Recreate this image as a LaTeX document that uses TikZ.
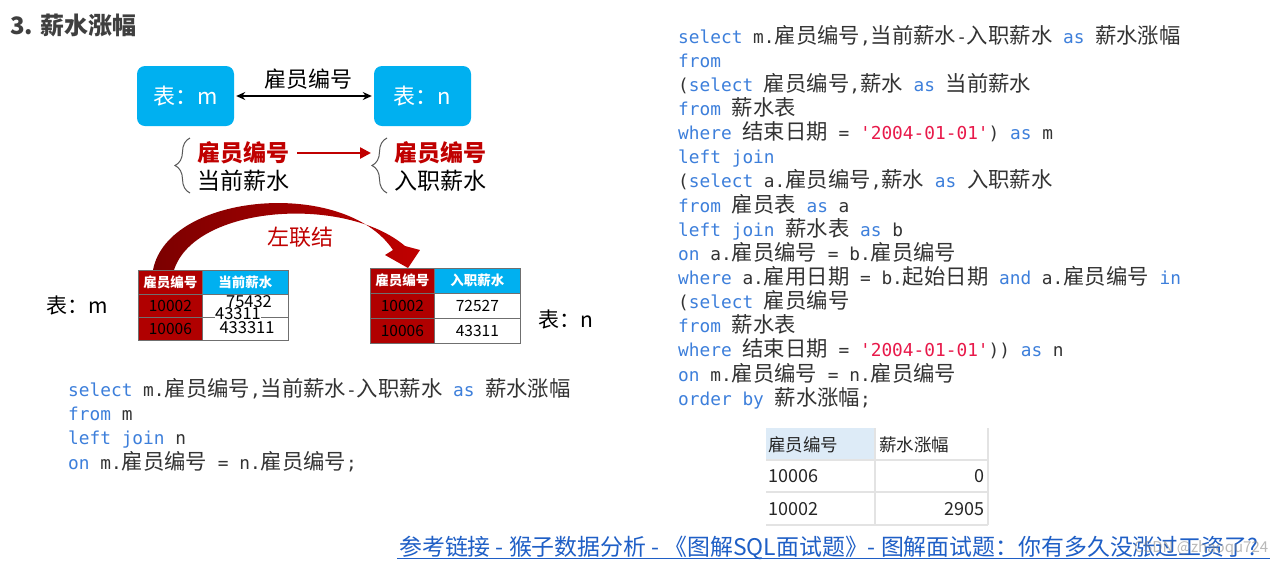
\documentclass[tikz,border=0pt]{standalone}
\usepackage{fontspec}
\setmainfont{Noto Sans CJK SC}
\setmonofont{DejaVu Sans Mono}
\newfontfamily\cjkcode{Noto Sans CJK SC}[Scale=1.2]
\usetikzlibrary{arrows.meta,decorations.pathreplacing}
\definecolor{boxcyan}{HTML}{00B0F0}
\definecolor{tred}{HTML}{B00000}
\definecolor{lred}{HTML}{C00000}
\definecolor{kwblue}{HTML}{3D7FDB}
\definecolor{strred}{HTML}{E8194A}
\definecolor{codegray}{HTML}{333333}
\definecolor{linkblue}{HTML}{1F5FC6}
\definecolor{titlegray}{HTML}{3F3F3F}
\definecolor{hdrblue}{HTML}{DDEBF7}
\definecolor{gridgray}{HTML}{E3E3E3}
\definecolor{bordergray}{HTML}{6F6F6F}
\newcommand\kw[1]{\textcolor{kwblue}{#1}}
\newcommand\zh[1]{{\cjkcode #1}}
\newcommand\sq[1]{\textcolor{strred}{#1}}
\newcommand\fsz[1]{\fontsize{#1}{#1}\selectfont}
\begin{document}
\begin{tikzpicture}[x=1pt,y=-1pt,
  tbox/.style={fill=boxcyan, rounded corners=8pt, minimum width=97pt, minimum height=60pt, text=white, font=\fsz{22}, inner sep=0pt},
  lbl/.style={inner sep=0pt, anchor=west},
  cell/.style={draw=bordergray, line width=0.7pt, inner sep=0pt, anchor=north west},
  hdrcell/.style={cell, text=white, font=\bfseries\fsz{13.5}},
  datcell/.style={cell, text=black, font=\fsz{15.5}},
  codeline/.style={anchor=base west, inner sep=0pt, text=codegray, font=\ttfamily\fsz{17.8}},
  restxt/.style={inner sep=0pt, text=black!85, font=\fsz{17.5}},
  brc/.style={decorate, decoration={brace, amplitude=15pt}, draw=gray!70!black, line width=1pt}
]
\useasboundingbox (0,0) rectangle (1276,566);
\fill[white] (0,0) rectangle (1276,566);

% title
\node[anchor=west, inner sep=0pt, text=titlegray, font=\bfseries\fsz{24}] (title) at (10,25) {3. 薪水涨幅};

% top boxes
\node[tbox] (bm) at (185.5,96) {表：m};
\node[tbox] (bn) at (422.5,96) {表：n};
\draw[{Stealth[length=9pt,width=8pt]}-{Stealth[length=9pt,width=8pt]}, line width=1.6pt, shorten <=2pt, shorten >=2pt] (bm.east) -- (bn.west);
\node[font=\fsz{22}, inner sep=0pt] (keylbl) at (308,79) {雇员编号};

% braces and column names
\draw[brc] (190,193) -- (190,138);
\draw[brc] (387,193) -- (387,138);
\node[lbl, text=lred, font=\bfseries\fsz{23}] (mk) at (197,153) {雇员编号};
\node[lbl, font=\fsz{23}] (mcur) at (197,181) {当前薪水};
\node[lbl, text=lred, font=\bfseries\fsz{23}] (nk) at (394,153) {雇员编号};
\node[lbl, font=\fsz{23}] (nin) at (394,181) {入职薪水};
\draw[-{Triangle[length=11pt,width=11pt]}, lred, line width=2.5pt, shorten <=8pt, shorten >=23pt] (mk.east) -- (nk.west);

% curved arrow
\shade[left color=tred!70!black, right color=lred]
  (153,270) .. controls (168,192) and (345,178) .. (393,250)
  -- (385,255) -- (408,268) -- (420,250) -- (405,246)
  .. controls (345,195) and (195,205) .. (174,270) -- cycle;
\node[text=lred, font=\fsz{22}, inner sep=0pt] (lj) at (300,237) {左联结};

% left table m
\node[hdrcell, fill=tred, minimum width=64pt, minimum height=24pt] (mh1) at (138,270) {雇员编号};
\node[hdrcell, fill=boxcyan, minimum width=86pt, minimum height=24pt] (mh2) at (202,270) {当前薪水};
\node[datcell, fill=tred, minimum width=64pt, minimum height=23pt] (mr1a) at (138,294) {10002};
\node[datcell, fill=white, minimum width=86pt, minimum height=23pt] (mr1b) at (202,294) {};
\node[datcell, fill=tred, minimum width=64pt, minimum height=23pt] (mr2a) at (138,317) {10006};
\node[datcell, fill=white, minimum width=86pt, minimum height=23pt] (mr2b) at (202,317) {};
\node[font=\fsz{16.5}, inner sep=0pt] (t75) at (249,302) {75432};
\node[font=\fsz{16.5}, fill=white, inner sep=0.6pt] (t43) at (238,314) {43311};
\node[font=\fsz{16.5}, inner sep=0pt] (t433) at (247,328) {433311};
\node[font=\fsz{21}, inner sep=0pt] (lm) at (77,306) {表：m};

% right table n
\node[hdrcell, fill=tred, minimum width=64pt, minimum height=25pt] (nh1) at (370,268) {雇员编号};
\node[hdrcell, fill=boxcyan, minimum width=86pt, minimum height=25pt] (nh2) at (434,268) {入职薪水};
\node[datcell, fill=tred, minimum width=64pt, minimum height=25pt] (nr1a) at (370,293) {10002};
\node[datcell, fill=white, minimum width=86pt, minimum height=25pt] (nr1b) at (434,293) {72527};
\node[datcell, fill=tred, minimum width=64pt, minimum height=25pt] (nr2a) at (370,318) {10006};
\node[datcell, fill=white, minimum width=86pt, minimum height=25pt] (nr2b) at (434,318) {43311};
\node[font=\fsz{21}, inner sep=0pt] (ln) at (566,319) {表：n};

% left code
\node[codeline] (lc1) at (68,396) {\kw{select} m.\zh{雇员编号},\zh{当前薪水}-\zh{入职薪水} \kw{as} \zh{薪水涨幅}};
\node[codeline] (lc2) at (68,420) {\kw{from} m};
\node[codeline] (lc3) at (68,444) {\kw{left join} n};
\node[codeline] (lc4) at (68,469) {\kw{on} m.\zh{雇员编号} = n.\zh{雇员编号};};

% right code
\node[codeline] (rc1) at (678,43) {\kw{select} m.\zh{雇员编号},\zh{当前薪水}-\zh{入职薪水} \kw{as} \zh{薪水涨幅}};
\node[codeline] (rc2) at (678,67.15) {\kw{from}};
\node[codeline] (rc3) at (678,91.3) {(\kw{select} \zh{雇员编号},\zh{薪水} \kw{as} \zh{当前薪水}};
\node[codeline] (rc4) at (678,115.45) {\kw{from} \zh{薪水表}};
\node[codeline] (rc5) at (678,139.6) {\kw{where} \zh{结束日期} = \sq{'2004-01-01'}) \kw{as} m};
\node[codeline] (rc6) at (678,163.75) {\kw{left join}};
\node[codeline] (rc7) at (678,187.9) {(\kw{select} a.\zh{雇员编号},\zh{薪水} \kw{as} \zh{入职薪水}};
\node[codeline] (rc8) at (678,212.05) {\kw{from} \zh{雇员表} \kw{as} a};
\node[codeline] (rc9) at (678,236.2) {\kw{left join} \zh{薪水表} \kw{as} b};
\node[codeline] (rc10) at (678,260.35) {\kw{on} a.\zh{雇员编号} = b.\zh{雇员编号}};
\node[codeline] (rc11) at (678,284.5) {\kw{where} a.\zh{雇用日期} = b.\zh{起始日期} \kw{and} a.\zh{雇员编号} \kw{in}};
\node[codeline] (rc12) at (678,308.65) {(\kw{select} \zh{雇员编号}};
\node[codeline] (rc13) at (678,332.8) {\kw{from} \zh{薪水表}};
\node[codeline] (rc14) at (678,356.95) {\kw{where} \zh{结束日期} = \sq{'2004-01-01'})) \kw{as} n};
\node[codeline] (rc15) at (678,381.1) {\kw{on} m.\zh{雇员编号} = n.\zh{雇员编号}};
\node[codeline] (rc16) at (678,405.25) {\kw{order by} \zh{薪水涨幅};};

% result table
\fill[hdrblue] (766,428) rectangle (875,460);
\draw[gridgray, line width=1.3pt] (766,460) -- (988,460) (766,492) -- (988,492) (766,525) -- (988,525)
  (875,428) -- (875,525) (988,428) -- (988,525);
\node[restxt, anchor=west] (rh1) at (768,445) {雇员编号};
\node[restxt, anchor=west] (rh2) at (879,445) {薪水涨幅};
\node[restxt, anchor=west, font=\fsz{18}] (r1a) at (768,476) {10006};
\node[restxt, anchor=east, font=\fsz{18}] (r1b) at (985,476) {0};
\node[restxt, anchor=west, font=\fsz{18}] (r2a) at (768,509) {10002};
\node[restxt, anchor=east, font=\fsz{18}] (r2b) at (985,509) {2905};

% footer link
\node[anchor=base west, inner sep=0pt, text=linkblue, font=\fsz{22.9}] (link) at (399,555) {参考链接 - 猴子数据分析 - 《图解SQL面试题》- 图解面试题：你有多久没涨过工资了?};
\draw[linkblue, line width=1.2pt] (397,558.5) -- (1270,558.5);
\node[anchor=base west, inner sep=0pt, text=gray, opacity=0.55, font=\fsz{15}] (wm) at (1134,552) {CSDN @zhaoqu724};
\end{tikzpicture}
\end{document}
